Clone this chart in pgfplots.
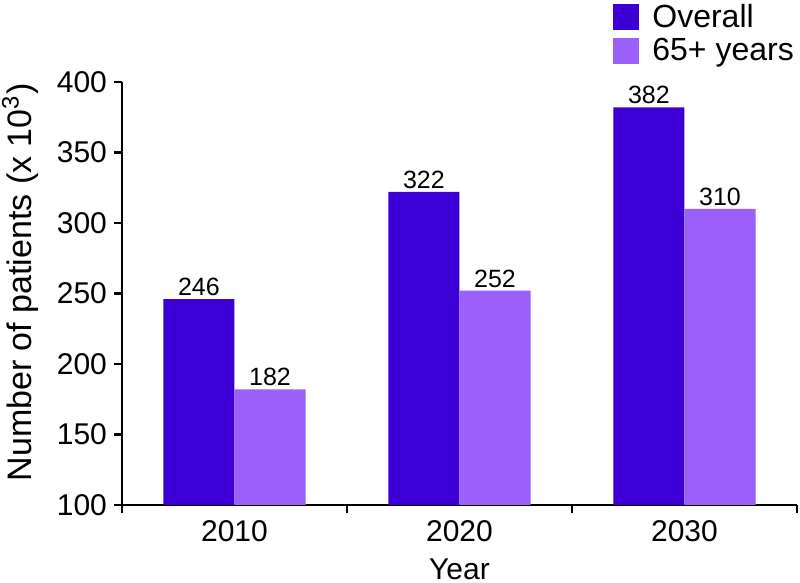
\documentclass[border=0pt]{standalone}
\usepackage{pgfplots}
\pgfplotsset{compat=1.18}
\usepackage{fontspec}
\setmainfont{Liberation Sans}
\definecolor{overall}{RGB}{60,0,215}
\definecolor{older}{RGB}{155,95,250}
\begin{document}
\begin{tikzpicture}
\useasboundingbox (-61pt,-39pt) rectangle (339pt,252.5pt);
\begin{axis}[
  at={(0,0)}, anchor=south west,
  scale only axis, width=337.5pt, height=211.5pt,
  xmin=-0.5, xmax=2.5, ymin=100, ymax=400,
  axis x line*=bottom, axis y line*=left,
  axis line style={line width=1.1pt, -},
  ytick={100,150,...,400},
  xtick={0,1,2}, xticklabels={2010,2020,2030},
  minor xtick={-0.5,0.5,1.5,2.5},
  tick align=outside,
  major tick length=4pt, minor tick length=4pt,
  tick style={line width=1.1pt, black},
  major x tick style={draw=none},
  /pgf/number format/assume math mode=true,
  ticklabel style={font=\fontsize{15}{17}\selectfont},
  ylabel={Number of patients (x 10\textsuperscript{3})},
  xlabel={Year},
  every axis y label/.style={at={(rel axis cs:-0.151,0.526)}, rotate=90, anchor=center, font=\fontsize{17}{19}\selectfont},
  every axis x label/.style={at={(rel axis cs:0.5,-0.176)}, anchor=base, font=\fontsize{15}{17}\selectfont},
  ybar, bar width=0.316,
  nodes near coords,
  nodes near coords style={font=\fontsize{12.5}{14}\selectfont, black, inner sep=1.5pt},
  legend style={at={(rel axis cs:0.7274,1.1939)}, anchor=north west, draw=none, fill=none,
    font=\fontsize{16}{18}\selectfont, inner sep=0pt, row sep=0pt,
    /tikz/every odd column/.append style={column sep=4.5pt}},
  legend cell align=left,
  legend image code/.code={\fill[#1] (0pt,-6.5pt) rectangle (13pt,6.5pt);},
]
\addplot[fill=overall, draw=none, bar shift=-0.158] coordinates {(0,246) (1,322) (2,382)};
\addplot[fill=older, draw=none, bar shift=0.158] coordinates {(0,182) (1,252) (2,310)};
\legend{Overall, 65+ years}
\end{axis}
\end{tikzpicture}
\end{document}
